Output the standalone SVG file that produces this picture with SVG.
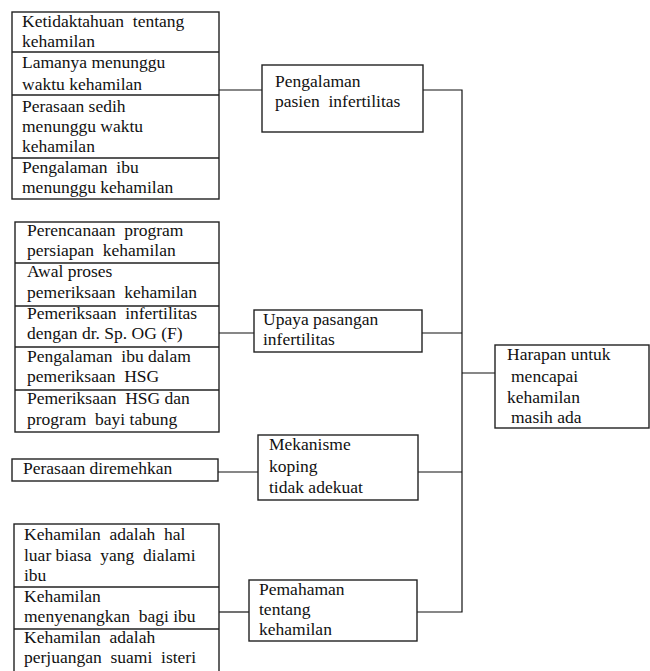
<svg xmlns="http://www.w3.org/2000/svg" width="650" height="671" viewBox="0 0 650 671">
<style>
.box{fill:#fff;stroke:#222;stroke-width:1.4}
.div{stroke:#222;stroke-width:1.4;fill:none}
.con{stroke:#111;stroke-width:1.2;fill:none}
text{font-size:17.5px;fill:#111;white-space:pre}
</style>
<rect width="650" height="671" fill="#fff"/>
<g id="connectors">
<line class="con" x1="219" y1="90" x2="262" y2="90"/>
<polyline class="con" points="423,90 462,90 462,612 413,612"/>
<line class="con" x1="219" y1="333" x2="254" y2="333"/>
<line class="con" x1="422" y1="333" x2="462" y2="333"/>
<line class="con" x1="462" y1="373" x2="495" y2="373"/>
<line class="con" x1="216" y1="472" x2="258" y2="472"/>
<line class="con" x1="414" y1="472" x2="462" y2="472"/>
<line class="con" x1="219" y1="612" x2="250" y2="612"/>
</g>
<g font-family="'Liberation Serif', 'Times New Roman', 'DejaVu Serif', serif">
<g id="group1">
<rect class="box" x="12" y="12" width="207" height="187"/>
<path class="div" d="M12 52H219M12 95H219M12 158H219"/>
<text x="22" y="27">Ketidaktahuan  tentang</text>
<text x="22" y="47">kehamilan</text>
<text x="22" y="68">Lamanya menunggu</text>
<text x="22" y="90">waktu kehamilan</text>
<text x="22" y="112">Perasaan sedih</text>
<text x="22" y="132">menunggu waktu</text>
<text x="22" y="152">kehamilan</text>
<text x="22" y="173">Pengalaman  ibu</text>
<text x="22" y="193">menunggu kehamilan</text>
</g>
<g id="pengalaman">
<rect class="box" x="262" y="65" width="161" height="67"/>
<text x="275" y="87">Pengalaman</text>
<text x="275" y="107">pasien  infertilitas</text>
</g>
<g id="group2">
<rect class="box" x="15" y="222" width="204" height="210"/>
<path class="div" d="M15 263H219M15 306H219M15 347H219M15 390H219"/>
<text x="27" y="236">Perencanaan  program</text>
<text x="27" y="256">persiapan  kehamilan</text>
<text x="27" y="277">Awal proses</text>
<text x="27" y="298">pemeriksaan  kehamilan</text>
<text x="27" y="319">Pemeriksaan  infertilitas</text>
<text x="27" y="339">dengan dr. Sp. OG (F)</text>
<text x="27" y="362">Pengalaman  ibu dalam</text>
<text x="27" y="382">pemeriksaan  HSG</text>
<text x="27" y="404">Pemeriksaan  HSG dan</text>
<text x="27" y="425">program  bayi tabung</text>
</g>
<g id="upaya">
<rect class="box" x="254" y="310" width="168" height="42"/>
<text x="263" y="325">Upaya pasangan</text>
<text x="263" y="345">infertilitas</text>
</g>
<g id="harapan">
<rect class="box" x="495" y="345" width="154" height="83"/>
<text x="507" y="360">Harapan untuk</text>
<text x="511" y="382">mencapai</text>
<text x="507" y="403">kehamilan</text>
<text x="511" y="423">masih ada</text>
</g>
<g id="group3">
<rect class="box" x="12" y="459" width="206" height="22"/>
<text x="23" y="474">Perasaan diremehkan</text>
</g>
<g id="mekanisme">
<rect class="box" x="258" y="435" width="160" height="65"/>
<text x="269" y="450">Mekanisme</text>
<text x="269" y="472">koping</text>
<text x="269" y="493">tidak adekuat</text>
</g>
<g id="group4">
<rect class="box" x="14" y="524" width="205" height="150"/>
<path class="div" d="M14 587H219M14 629H219"/>
<text x="24" y="540">Kehamilan  adalah  hal</text>
<text x="24" y="561">luar biasa  yang  dialami</text>
<text x="24" y="581">ibu</text>
<text x="24" y="602">Kehamilan</text>
<text x="24" y="622">menyenangkan  bagi ibu</text>
<text x="24" y="643">Kehamilan  adalah</text>
<text x="24" y="663">perjuangan  suami  isteri</text>
</g>
<g id="pemahaman">
<rect class="box" x="249" y="580" width="168" height="61"/>
<text x="259" y="595">Pemahaman</text>
<text x="259" y="615">tentang</text>
<text x="259" y="635">kehamilan</text>
</g>
</g>
</svg>
